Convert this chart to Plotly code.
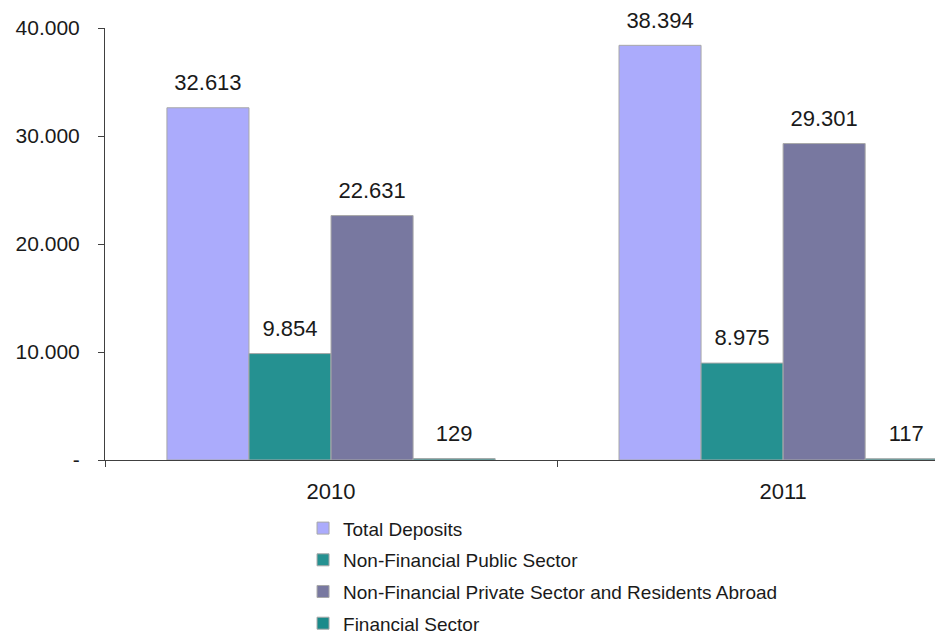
import plotly.graph_objects as go

years = ["2010", "2011"]
series_names = [
    "Total Deposits",
    "Non-Financial Public Sector",
    "Non-Financial Private Sector and Residents Abroad",
    "Financial Sector",
]
total_deposits = [32613, 38394]
public_sector = [9854, 8975]
private_sector = [22631, 29301]
financial_sector = [129, 117]
y_tick_values = [0, 10000, 20000, 30000, 40000]
y_tick_labels = ["-", "10.000", "20.000", "30.000", "40.000"]

series_values = [total_deposits, public_sector, private_sector, financial_sector]
colors = ["#ABABFC", "#259191", "#7878A0", "#1A8A8A"]

FONT = "Liberation Sans, Arial, sans-serif"
TXT = "#1a1a1a"
AX = "#404040"

fig = go.Figure()
for name, vals, color in zip(series_names, series_values, colors):
    fig.add_bar(
        x=years, y=vals, name=name, offsetgroup=name, legendgroup=name,
        marker=dict(color=color, line=dict(color="#A8A8A8", width=1)),
        hoverinfo="skip",
    )
for name, vals in zip(series_names, series_values):
    fig.add_scatter(
        x=years, y=vals, mode="markers+text", offsetgroup=name,
        texttemplate="%{y:,}", textposition="top center",
        textfont=dict(family=FONT, size=22, color=TXT),
        marker=dict(size=18, opacity=0), showlegend=False,
        hoverinfo="skip", cliponaxis=False,
    )

fig.update_layout(
    width=935, height=632,
    margin=dict(l=105, r=0, t=28, b=172, autoexpand=False),
    paper_bgcolor="white", plot_bgcolor="white",
    separators=",.",
    barmode="group", bargap=0.274, bargroupgap=0,
    scattermode="group", scattergap=0.274,
    font=dict(family=FONT, color=TXT),
    legend=dict(
        x=0.2386, xanchor="left", y=-0.114, yanchor="top",
        font=dict(family=FONT, size=19, color=TXT),
        tracegroupgap=4, bgcolor="rgba(0,0,0,0)",
    ),
    xaxis=dict(
        type="category", range=[-0.5, 1.336],
        showline=True, linecolor=AX, linewidth=1,
        ticks="outside", ticklen=6, tickcolor=AX, tickson="boundaries",
        showgrid=False, tickfont=dict(size=22, color=TXT),
        ticklabelstandoff=12,
    ),
    yaxis=dict(
        range=[0, 40000], tickvals=y_tick_values, ticktext=y_tick_labels,
        showline=True, linecolor=AX, linewidth=1,
        ticks="outside", ticklen=6, tickcolor=AX,
        showgrid=False, zeroline=False, tickfont=dict(size=21, color=TXT),
        ticklabelstandoff=14,
    ),
)

fig.write_html("out.html")
